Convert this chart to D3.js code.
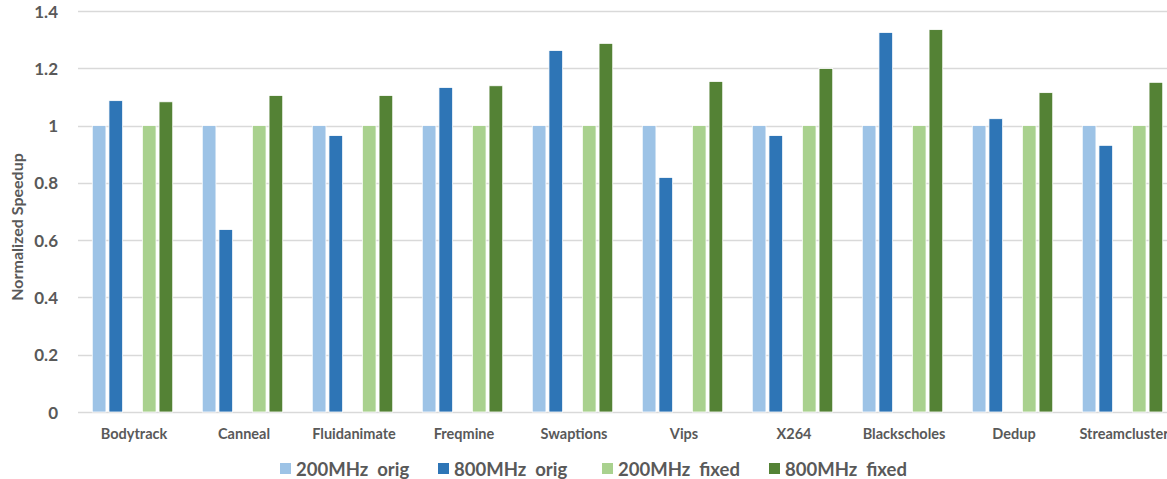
<!DOCTYPE html>
<html>
<head>
<meta charset="utf-8">
<script src="https://cdn.jsdelivr.net/npm/d3@7"></script>
<style>
  html, body { margin: 0; padding: 0; background: #fff; overflow: hidden; }
  svg { display: block; font-family: "Lato", "Open Sans", sans-serif; font-weight: bold; }
  text { white-space: pre; }
</style>
</head>
<body>
<svg id="chart" width="1167" height="479"></svg>
<script>
// Benchmarks along the x axis
const categories = ["Bodytrack", "Canneal", "Fluidanimate", "Freqmine", "Swaptions",
                    "Vips", "X264", "Blackscholes", "Dedup", "Streamcluster"];

// Normalized speedup per configuration
const orig200  = [1, 1, 1, 1, 1, 1, 1, 1, 1, 1];
const orig800  = [1.087, 0.637, 0.965, 1.133, 1.262, 0.819, 0.965, 1.325, 1.024, 0.931];
const fixed200 = [1, 1, 1, 1, 1, 1, 1, 1, 1, 1];
const fixed800 = [1.083, 1.105, 1.105, 1.139, 1.287, 1.154, 1.199, 1.335, 1.115, 1.151];

const seriesNames = ["200MHz  orig", "800MHz  orig", "200MHz  fixed", "800MHz  fixed"];
const seriesColors = ["#9dc3e6", "#2e75b6", "#a9d18e", "#548235"];
const yTicks = [0, 0.2, 0.4, 0.6, 0.8, 1, 1.2, 1.4];

const series = [
  { key: "s0", name: seriesNames[0], color: seriesColors[0], values: orig200 },
  { key: "s1", name: seriesNames[1], color: seriesColors[1], values: orig800 },
  { key: "s2", name: seriesNames[2], color: seriesColors[2], values: fixed200 },
  { key: "s3", name: seriesNames[3], color: seriesColors[3], values: fixed800 }
];

const svg = d3.select("#chart");
const textColor = "#595959";
const gridColor = "#d9d9d9";

const x = d3.scaleBand().domain(categories).range([79, 1179]).padding(0);
// five slots per group; the middle slot stays empty to split orig from fixed
const slots = ["s0", "s1", "gap", "s2", "s3"];
const xInner = d3.scaleBand().domain(slots)
  .range([x.bandwidth() * 0.1205, x.bandwidth() * (1 - 0.1205)]).padding(0);
const y = d3.scaleLinear().domain([0, 1.4]).range([412, 11]);

// horizontal gridlines
svg.append("g")
  .selectAll("line")
  .data(yTicks)
  .join("line")
  .attr("x1", 78).attr("x2", 1167)
  .attr("y1", d => Math.round(y(d)) + 0.5)
  .attr("y2", d => Math.round(y(d)) + 0.5)
  .attr("stroke", gridColor)
  .attr("stroke-width", 1.3);

// y axis labels
const yAxis = d3.axisLeft(y).tickValues(yTicks).tickSize(0).tickPadding(0)
  .tickFormat(d => d3.format("")(+d.toFixed(1)));
svg.append("g")
  .attr("transform", "translate(58,0)")
  .call(yAxis)
  .call(g => g.select(".domain").remove())
  .call(g => g.selectAll("text")
    .attr("fill", textColor)
    .attr("font-size", 17)
    .attr("font-family", "Lato")
    .attr("font-weight", "bold")
    .attr("dy", "0.36em"));

// bars
const groups = svg.append("g")
  .selectAll("g")
  .data(series)
  .join("g")
  .attr("fill", d => d.color);

const barW = xInner.bandwidth() * 0.82;
groups.selectAll("rect")
  .data(s => s.values.map((v, i) => ({ key: s.key, cat: categories[i], v })))
  .join("rect")
  .attr("x", d => x(d.cat) + xInner(d.key))
  .attr("width", barW)
  .attr("y", d => y(d.v))
  .attr("height", d => y(0) - y(d.v))
  .attr("stroke", "#ffffff")
  .attr("stroke-width", 0.8);

// x axis labels
const xAxis = d3.axisBottom(x).tickSize(0).tickPadding(0);
svg.append("g")
  .attr("transform", "translate(0,429)")
  .call(xAxis)
  .call(g => g.select(".domain").remove())
  .call(g => g.selectAll("text")
    .attr("fill", textColor)
    .attr("font-size", 14.5)
    .attr("font-family", "Lato")
    .attr("font-weight", "bold")
    .attr("dy", "0.71em"));

// y axis title
svg.append("text")
  .attr("transform", "translate(23,227) rotate(-90)")
  .attr("text-anchor", "middle")
  .attr("fill", textColor)
  .attr("font-size", 16)
  .text("Normalized Speedup");

// legend
const legendX = [280, 438, 602, 769];
const legend = svg.append("g")
  .selectAll("g")
  .data(series)
  .join("g")
  .attr("transform", (d, i) => `translate(${legendX[i]},463)`);
legend.append("rect")
  .attr("width", 11).attr("height", 11)
  .attr("fill", d => d.color);
legend.append("text")
  .attr("x", 16).attr("y", 13)
  .attr("fill", textColor)
  .attr("font-size", 18.5)
  .text(d => d.name);
</script>
</body>
</html>
